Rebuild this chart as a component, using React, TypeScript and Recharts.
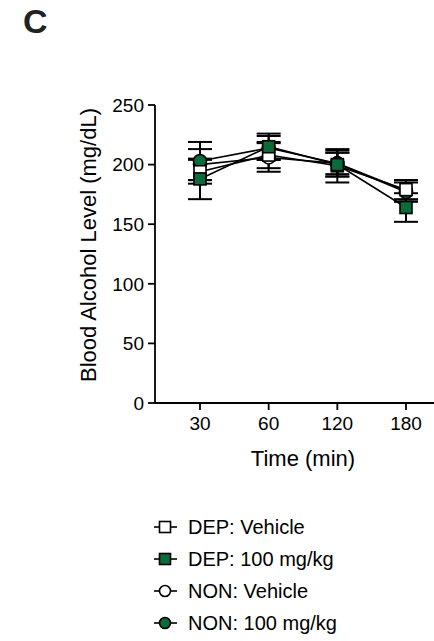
import React from 'react'
import { LineChart, Line, XAxis, YAxis, ErrorBar } from 'recharts'

const FONT = '"Liberation Sans", Arial, sans-serif'
const GREEN = '#0b6b3a'

// time points (min)
const times = ['30', '60', '120', '180']
const yTicks = [0, 50, 100, 150, 200, 250]

// mean blood alcohol level (mg/dL) and SEM
const depVehicle = [194, 208, 199, 179]
const depVehicleErr = [10, 11, 14, 8]
const dep100 = [188, 215, 200, 164]
const dep100Err = [17, 11, 10, 12]
const nonVehicle = [200, 206, 201, 178]
const nonVehicleErr = [13, 12, 11, 9]
const non100 = [203, 214, 201, 177]
const non100Err = [16, 10, 9, 8]

const series = [
  { key: 'depVeh', name: 'DEP: Vehicle', values: depVehicle, errs: depVehicleErr, shape: 'square', fill: '#fff' },
  { key: 'dep100', name: 'DEP: 100 mg/kg', values: dep100, errs: dep100Err, shape: 'square', fill: GREEN },
  { key: 'nonVeh', name: 'NON: Vehicle', values: nonVehicle, errs: nonVehicleErr, shape: 'circle', fill: '#fff' },
  { key: 'non100', name: 'NON: 100 mg/kg', values: non100, errs: non100Err, shape: 'circle', fill: GREEN },
]

// drawing order: NON groups underneath, DEP groups on top
const drawOrder = ['nonVeh', 'non100', 'depVeh', 'dep100']

const data = times.map((t, i) => {
  const row: any = { time: t }
  series.forEach(s => {
    row[s.key] = s.values[i]
    row[s.key + 'Err'] = s.errs[i]
  })
  return row
})

function makeDot(shape: string, fill: string) {
  return (props: any) => {
    const { cx, cy, index } = props
    if (cx == null || cy == null) return <g key={`d-${index}`} />
    if (shape === 'square') {
      return <rect key={`d-${index}`} x={cx - 6} y={cy - 6} width={12} height={12} fill={fill} stroke="#000" strokeWidth={1.6} />
    }
    return <circle key={`d-${index}`} cx={cx} cy={cy} r={6.5} fill={fill} stroke="#000" strokeWidth={1.6} />
  }
}

function LegendMarker({ shape, fill }: { shape: string; fill: string }) {
  return (
    <svg width={26} height={16} style={{ display: 'block' }}>
      <line x1={1} y1={8} x2={24} y2={8} stroke="#000" strokeWidth={1.6} />
      {shape === 'square' ? (
        <rect x={6.5} y={2.5} width={11} height={11} fill={fill} stroke="#000" strokeWidth={1.6} />
      ) : (
        <circle cx={12} cy={8} r={5.5} fill={fill} stroke="#000" strokeWidth={1.6} />
      )}
    </svg>
  )
}

export default function App() {
  const ordered = drawOrder.map(k => series.find(s => s.key === k)!)
  return (
    <div style={{ position: 'absolute', left: 0, top: 0, width: 434, height: 641, overflow: 'hidden', background: '#fff', fontFamily: FONT }}>
      <div style={{ position: 'absolute', left: 23, top: 2, fontSize: 34, fontWeight: 'bold', color: '#222' }}>C</div>

      <div style={{ position: 'absolute', left: 0, top: 0 }}>
        <LineChart width={470} height={641} data={data} margin={{ top: 105, right: 19, bottom: 178, left: 75 }}>
          <XAxis
            dataKey="time"
            scale="point"
            padding={{ left: 45, right: 45 }}
            height={60}
            stroke="#000"
            strokeWidth={1.8}
            tickSize={7}
            tickMargin={7}
            tick={{ fill: '#000', fontSize: 19, fontFamily: FONT }}
            label={{
              content: ({ viewBox }: any) => (
                <text x={viewBox.x + viewBox.width / 2} y={458} textAnchor="middle" dominantBaseline="central" fontSize={22} fontFamily={FONT} fill="#000">
                  Time (min)
                </text>
              ),
            }}
          />
          <YAxis
            domain={[0, 250]}
            ticks={yTicks}
            width={80}
            stroke="#000"
            strokeWidth={1.8}
            tickSize={7}
            tickMargin={4}
            tick={{ fill: '#000', fontSize: 19, fontFamily: FONT }}
            label={{
              content: ({ viewBox }: any) => {
                const x = viewBox.x + 13
                const y = viewBox.y + viewBox.height / 2 - 9
                return (
                  <text x={x} y={y} transform={`rotate(-90 ${x} ${y})`} textAnchor="middle" dominantBaseline="central" fontSize={22} fontFamily={FONT} fill="#000">
                    Blood Alcohol Level (mg/dL)
                  </text>
                )
              },
            }}
          />
          {ordered.map(s => (
            <Line
              key={s.key}
              dataKey={s.key}
              name={s.name}
              stroke="#000"
              strokeWidth={1.6}
              dot={makeDot(s.shape, s.fill)}
              activeDot={false}
              isAnimationActive={false}
            >
              <ErrorBar dataKey={s.key + 'Err'} width={12} stroke="#000" strokeWidth={2} direction="y" />
            </Line>
          ))}
        </LineChart>
      </div>

      <div style={{ position: 'absolute', left: 153, top: 511 }}>
        {series.map(s => (
          <div key={s.key} style={{ display: 'flex', alignItems: 'center', height: 32, fontSize: 20, color: '#000' }}>
            <LegendMarker shape={s.shape} fill={s.fill} />
            <span style={{ marginLeft: 9 }}>{s.name}</span>
          </div>
        ))}
      </div>
    </div>
  )
}
